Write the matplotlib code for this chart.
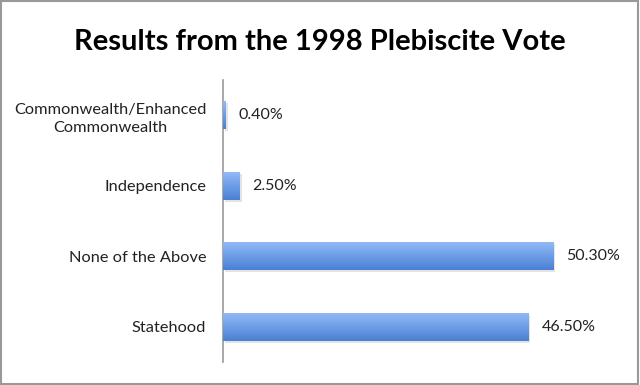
import numpy as np
import matplotlib
matplotlib.use("Agg")
import matplotlib.pyplot as plt
from matplotlib import patheffects
from matplotlib.colors import LinearSegmentedColormap

categories = ["Commonwealth/Enhanced\nCommonwealth", "Independence", "None of the Above", "Statehood"]
values = [0.4, 2.5, 50.3, 46.5]
value_labels = ["0.40%", "2.50%", "50.30%", "46.50%"]

plt.rcParams["font.family"] = ["Lato", "DejaVu Sans"]

fig = plt.figure(figsize=(6.4, 3.85), dpi=100)
ax = fig.add_axes([223 / 640, 1 - 362 / 385, 394 / 640, 282 / 385])

pos = np.arange(len(categories))
bars = ax.barh(pos, values, height=0.4, color="#6b9be6", edgecolor="none")

# light top -> darker bottom, like the original gradient fill
grad = LinearSegmentedColormap.from_list("g", ["#4a80d2", "#6e9ee8", "#95bbf6"])
for b in bars:
    b.set_path_effects([patheffects.SimplePatchShadow(offset=(1.5, -1.5), alpha=0.15, shadow_rgbFace="#444444"),
                        patheffects.Normal()])
    x0, y0 = b.get_x(), b.get_y()
    w, h = b.get_width(), b.get_height()
    img = ax.imshow(np.linspace(1, 0, 64).reshape(-1, 1), cmap=grad, aspect="auto",
                    extent=(x0, x0 + w, y0 + h, y0), origin="upper", zorder=3, interpolation="bicubic")
    img.set_clip_path(b)

for p, v, t in zip(pos, values, value_labels):
    ax.annotate(t, (v, p), xytext=(13, 0), textcoords="offset pixels",
                va="center", ha="left", fontsize=11.5, color="#222222")

ax.set_xlim(0, 60)
ax.set_ylim(3.5, -0.5)
ax.set_yticks(pos)
ax.set_yticklabels(categories, fontsize=11.8, color="#222222", linespacing=1.4)
for lab in ax.get_yticklabels():
    lab.set_multialignment("center")
ax.tick_params(axis="y", length=0, pad=12)
ax.set_xticks([])
for s in ["top", "right", "bottom"]:
    ax.spines[s].set_visible(False)
ax.spines["left"].set_color("#999999")
ax.spines["left"].set_linewidth(1.2)

fig.text(0.5, 1 - 42 / 385, "Results from the 1998 Plebiscite Vote", ha="center", va="center",
         fontsize=21, fontweight="bold", color="black")

fig.patches.append(plt.Rectangle((0.001, 0.002), 0.996, 0.996, transform=fig.transFigure,
                                 fill=False, edgecolor="#999999", linewidth=1.5))

fig.savefig("out.png", dpi=100, facecolor="white")
